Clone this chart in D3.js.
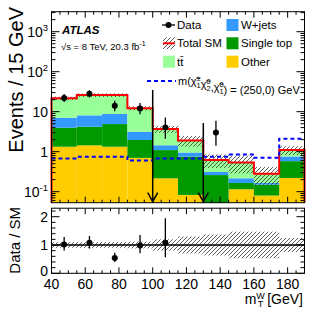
<!DOCTYPE html>
<html>
<head>
<meta charset="utf-8" />
<title>mT W</title>
<style>
body { margin: 0; background: #fff; }
svg { display: block; font-family: "Liberation Sans", Arial, sans-serif; }
</style>
</head>
<body>
<div id="graph"></div>
<script src="https://d3js.org/d3.v7.min.js"></script>
<script>

// bins of mT^W [GeV]
var binEdges = [40, 55, 70, 85, 100, 115, 130, 145, 160, 175, 190];

// stacked backgrounds (events / 15 GeV), bottom to top: other, single top, W+jets, ttbar
var other     = [1.33, 1.44, 1.33, 0.70, 0.216, 0.083, 0.03, 0.115, 0.08, 0.22];
var singleTop = [2.65, 2.76, 3.57, 1.26, 0.88, 0.67, 0.23, 0.05, 0.07, 0.36];
var wjets     = [3.10, 3.90, 3.90, 1.20, 0.35, 0.20, 0.05, 0.051, 0.015, 0.18];
var ttbar     = [14.5, 17.9, 17.2, 9.04, 2.25, 0.95, 0.31, 0.324, 0.115, 0.34];
var sysRel    = [0.10, 0.10, 0.10, 0.12, 0.20, 0.30, 0.37, 0.47, 0.47, 0.25];

// signal m = (250,0) GeV
var signal = [0.68, 0.75, 0.75, 0.60, 0.68, 0.68, 0.75, 0.85, 0.70, 2.1];

// data
var dataCounts = [22, 28, 14, 12, 4, 0, 3, 0, 0, 0];
var dataErrLo  = [4.6, 5.3, 3.7, 3.4, 1.9, 0, 1.6, 0, 0, 0];
var dataErrHi  = [5.7, 6.3, 4.8, 4.5, 3.2, 0, 2.9, 0, 0, 0];

// cut arrows
var cutX = [100, 130];
var cutTop = [35, 5.2];

var xTicks = [40, 60, 80, 100, 120, 140, 160, 180];
var yTicksMain = [0.1, 1, 10, 100, 1000];
var ratioTicks = [0, 1, 2];

var colors = {other: "#ffcc00", singleTop: "#009900", wjets: "#3399ff", ttbar: "#99ff99"};

var W = 324, H = 311;
var svg = d3.select("#graph").append("svg").attr("width", W).attr("height", H);

var defs = svg.append("defs");
defs.append("pattern").attr("id", "hatch")
    .attr("patternUnits", "userSpaceOnUse")
    .attr("width", 4).attr("height", 4)
  .append("path")
    .attr("d", "M-1,1 l2,-2 M0,4 l4,-4 M3,5 l2,-2")
    .attr("stroke", "#333").attr("stroke-width", 0.8);

var x = d3.scaleLinear().domain([40, 190]).range([51.5, 304.5]);
var y = d3.scaleLog().domain([0.053, 3162]).range([202.7, 11.7]).clamp(true);
var yr = d3.scaleLinear().domain([0, 2.3]).range([273.3, 208.2]);

var nb = binEdges.length - 1;
var bins = d3.range(nb).map(function(i) {
    var c0 = other[i], c1 = c0 + singleTop[i], c2 = c1 + wjets[i], c3 = c2 + ttbar[i];
    return {lo: binEdges[i], hi: binEdges[i+1], cum: [0, c0, c1, c2, c3], total: c3,
            sys: sysRel[i], sig: signal[i], n: dataCounts[i], eLo: dataErrLo[i], eHi: dataErrHi[i]};
});
var yMin = y.domain()[0];

// main pad
var main = svg.append("g");
var compColors = [colors.other, colors.singleTop, colors.wjets, colors.ttbar];
compColors.forEach(function(col, k) {
    main.append("g").selectAll("rect").data(bins).enter().append("rect")
        .attr("x", function(d) { return x(d.lo); })
        .attr("width", function(d) { return x(d.hi) - x(d.lo); })
        .attr("y", function(d) { return y(d.cum[k+1]); })
        .attr("height", function(d) { return y(Math.max(d.cum[k], yMin)) - y(d.cum[k+1]); })
        .attr("fill", col);
});

// uncertainty band
main.append("g").selectAll("rect").data(bins).enter().append("rect")
    .attr("x", function(d) { return x(d.lo); })
    .attr("width", function(d) { return x(d.hi) - x(d.lo); })
    .attr("y", function(d) { return y(d.total * (1 + d.sys)); })
    .attr("height", function(d) { return y(d.total * (1 - d.sys)) - y(d.total * (1 + d.sys)); })
    .attr("fill", "url(#hatch)");

function stepPath(vals, sc, closeBottom) {
    var p = d3.path();
    if (closeBottom) { p.moveTo(x(binEdges[0]), sc.range()[0]); p.lineTo(x(binEdges[0]), sc(vals[0])); }
    else p.moveTo(x(binEdges[0]), sc(vals[0]));
    vals.forEach(function(v, i) {
        if (i > 0) p.lineTo(x(binEdges[i]), sc(v));
        p.lineTo(x(binEdges[i+1]), sc(v));
    });
    if (closeBottom) p.lineTo(x(binEdges[nb]), sc.range()[0]);
    return p.toString();
}

main.append("path").attr("d", stepPath(bins.map(function(d) { return d.total; }), y, true))
    .attr("fill", "none").attr("stroke", "#ff0000").attr("stroke-width", 2);

main.append("path").attr("d", stepPath(signal, y, false))
    .attr("fill", "none").attr("stroke", "#0000ff").attr("stroke-width", 2)
    .attr("stroke-dasharray", "4,3");

// data points
var pts = bins.filter(function(d) { return d.n > 0; });
var dg = main.append("g").selectAll("g").data(pts).enter().append("g");
dg.append("line")
    .attr("x1", function(d) { return x((d.lo + d.hi) / 2); })
    .attr("x2", function(d) { return x((d.lo + d.hi) / 2); })
    .attr("y1", function(d) { return y(d.n + d.eHi); })
    .attr("y2", function(d) { return y(d.n - d.eLo); })
    .attr("stroke", "#000").attr("stroke-width", 1.3);
dg.append("circle")
    .attr("cx", function(d) { return x((d.lo + d.hi) / 2); })
    .attr("cy", function(d) { return y(d.n); })
    .attr("r", 3).attr("fill", "#000");

// cut arrows
cutX.forEach(function(cx, i) {
    var px = x(cx), yb = y.range()[0] - 1;
    main.append("line").attr("x1", px).attr("x2", px).attr("y1", y(cutTop[i])).attr("y2", yb)
        .attr("stroke", "#000").attr("stroke-width", 1.5);
    main.append("path").attr("d", "M" + (px - 5) + "," + (yb - 9) + "L" + px + "," + yb + "L" + (px + 5) + "," + (yb - 9))
        .attr("fill", "none").attr("stroke", "#000").attr("stroke-width", 1.5);
});

// frames and ticks
function frame(g, ys) {
    g.append("rect").attr("x", x.range()[0]).attr("y", ys.range()[1])
        .attr("width", x.range()[1] - x.range()[0]).attr("height", ys.range()[0] - ys.range()[1])
        .attr("fill", "none").attr("stroke", "#000").attr("stroke-width", 1);
}
function xTickMarks(g, ys) {
    var yb = ys.range()[0], yt = ys.range()[1];
    d3.range(40, 191, 5).forEach(function(v) {
        var len = (v % 20 === 0) ? 6 : 3;
        g.append("line").attr("x1", x(v)).attr("x2", x(v)).attr("y1", yb).attr("y2", yb - len).attr("stroke", "#000");
        g.append("line").attr("x1", x(v)).attr("x2", x(v)).attr("y1", yt).attr("y2", yt + len).attr("stroke", "#000");
    });
}
function yTickMark(g, py, len) {
    var xl = x.range()[0], xr = x.range()[1];
    g.append("line").attr("x1", xl).attr("x2", xl + len).attr("y1", py).attr("y2", py).attr("stroke", "#000");
    g.append("line").attr("x1", xr).attr("x2", xr - len).attr("y1", py).attr("y2", py).attr("stroke", "#000");
}

frame(main, y);
xTickMarks(main, y);
for (var e = -2; e <= 3; e++) {
    for (var k = 1; k <= 9; k++) {
        var v = k * Math.pow(10, e);
        if (v < y.domain()[0] || v > y.domain()[1]) continue;
        yTickMark(main, y(v), k === 1 ? 8 : 4);
    }
}
yTicksMain.forEach(function(v) {
    var t = main.append("text").attr("x", 48).attr("y", y(v) + 5)
        .attr("text-anchor", "end").attr("font-size", 14);
    var ex = Math.round(Math.log10(v));
    if (ex === 0) t.text("1");
    else if (ex === 1) t.text("10");
    else {
        t.append("tspan").text("10");
        t.append("tspan").attr("dy", -6).attr("font-size", 9.5).text(ex);
    }
});

main.append("text").attr("transform", "translate(23,7) rotate(-90)")
    .attr("text-anchor", "end").attr("font-size", 20).text("Events / 15 GeV");

// ATLAS label
main.append("text").attr("x", 62).attr("y", 33.5).attr("font-size", 11.5)
    .attr("font-weight", "bold").attr("font-style", "italic").text("ATLAS");
var lum = main.append("text").attr("x", 61).attr("y", 50).attr("font-size", 9.5);
lum.append("tspan").text("\u221As = 8 TeV, 20.3 fb");
lum.append("tspan").attr("dy", -4).attr("font-size", 7).text("-1");

// legend
var lg = main.append("g").attr("font-size", 11.5);
var rowY = [25, 43.3, 61.7];
lg.append("line").attr("x1", 162).attr("x2", 175).attr("y1", rowY[0]).attr("y2", rowY[0]).attr("stroke", "#000").attr("stroke-width", 1.3);
lg.append("circle").attr("cx", 168.5).attr("cy", rowY[0]).attr("r", 3).attr("fill", "#000");
lg.append("text").attr("x", 177).attr("y", rowY[0] + 4).text("Data");
lg.append("rect").attr("x", 163).attr("y", rowY[1] - 6).attr("width", 12).attr("height", 12).attr("fill", "url(#hatch)");
lg.append("line").attr("x1", 163).attr("x2", 175).attr("y1", rowY[1]).attr("y2", rowY[1]).attr("stroke", "#ff0000").attr("stroke-width", 2);
lg.append("text").attr("x", 177).attr("y", rowY[1] + 4).text("Total SM");
lg.append("rect").attr("x", 163).attr("y", rowY[2] - 6).attr("width", 12).attr("height", 12).attr("fill", colors.ttbar);
lg.append("text").attr("x", 177).attr("y", rowY[2] + 4).text("t\u0074\u0304");
var right = [["W+jets", colors.wjets], ["Single top", colors.singleTop], ["Other", colors.other]];
right.forEach(function(r, i) {
    lg.append("rect").attr("x", 226.5).attr("y", rowY[i] - 6).attr("width", 12).attr("height", 12).attr("fill", r[1]);
    lg.append("text").attr("x", 241).attr("y", rowY[i] + 4).text(r[0]);
});
lg.append("line").attr("x1", 147).attr("x2", 176).attr("y1", 81).attr("y2", 81)
    .attr("stroke", "#0000ff").attr("stroke-width", 2).attr("stroke-dasharray", "4,3");
var st = lg.append("text").attr("x", 178).attr("y", 85).attr("font-size", 11);
function chi(t, sup, sub) {
    t.append("tspan").text("\u03C7\u0303");
    t.append("tspan").attr("dy", -4).attr("font-size", 7.5).text(sup);
    t.append("tspan").attr("dx", -4.2).attr("dy", 7).attr("font-size", 7.5).text(sub);
    t.append("tspan").attr("dy", -3).text("");
}
st.append("tspan").text("m(");
chi(st, "\u00B1", "1");
chi(st, "0", "2");
st.append("tspan").text(",");
chi(st, "0", "1");
st.append("tspan").text(") = (250,0) GeV");

// ratio pad
var rp = svg.append("g");
rp.append("g").selectAll("rect").data(bins).enter().append("rect")
    .attr("x", function(d) { return x(d.lo); })
    .attr("width", function(d) { return x(d.hi) - x(d.lo); })
    .attr("y", function(d) { return yr(1 + d.sys); })
    .attr("height", function(d) { return yr(1 - d.sys) - yr(1 + d.sys); })
    .attr("fill", "url(#hatch)");
rp.append("line").attr("x1", x.range()[0]).attr("x2", x.range()[1]).attr("y1", yr(1)).attr("y2", yr(1))
    .attr("stroke", "#000").attr("stroke-width", 1.5);

var rpts = pts.filter(function(d) { return d.n / d.total < yr.domain()[1]; });
var rg = rp.append("g").selectAll("g").data(rpts).enter().append("g");
rg.append("line")
    .attr("x1", function(d) { return x((d.lo + d.hi) / 2); })
    .attr("x2", function(d) { return x((d.lo + d.hi) / 2); })
    .attr("y1", function(d) { return yr((d.n + d.eHi) / d.total); })
    .attr("y2", function(d) { return yr((d.n - d.eLo) / d.total); })
    .attr("stroke", "#000").attr("stroke-width", 1.3);
rg.append("circle")
    .attr("cx", function(d) { return x((d.lo + d.hi) / 2); })
    .attr("cy", function(d) { return yr(d.n / d.total); })
    .attr("r", 3).attr("fill", "#000");

frame(rp, yr);
xTickMarks(rp, yr);
d3.range(0, 2.31, 0.2).forEach(function(v) {
    var major = Math.abs(v - Math.round(v)) < 1e-6;
    yTickMark(rp, yr(v), major ? 8 : 4);
});
ratioTicks.forEach(function(v) {
    rp.append("text").attr("x", 48).attr("y", yr(v) + (v === 0 ? 3 : 5)).attr("text-anchor", "end")
        .attr("font-size", 14).text(v);
});
xTicks.forEach(function(v) {
    rp.append("text").attr("x", x(v)).attr("y", 288.5).attr("text-anchor", "middle")
        .attr("font-size", 14).text(v);
});
rp.append("text").attr("transform", "translate(20,207) rotate(-90)")
    .attr("text-anchor", "end").attr("font-size", 15).text("Data / SM");

var xl = rp.append("text").attr("x", 303).attr("y", 304).attr("text-anchor", "end").attr("font-size", 14);
xl.append("tspan").text("m");
xl.append("tspan").attr("dy", -5).attr("font-size", 9).text("W");
xl.append("tspan").attr("dx", -7).attr("dy", 8).attr("font-size", 9).text("T");
xl.append("tspan").attr("dy", -3).text(" [GeV]");

</script>
</body>
</html>
